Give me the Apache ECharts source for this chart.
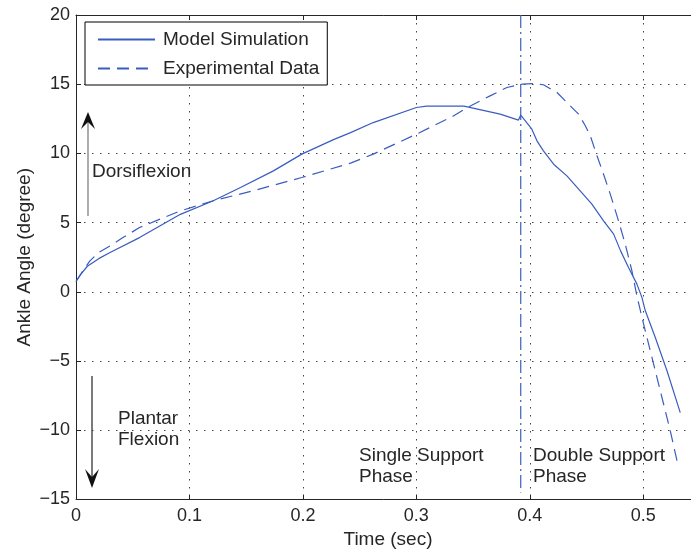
<!DOCTYPE html>
<html>
<head>
<meta charset="utf-8">
<script src="https://cdn.jsdelivr.net/npm/echarts@6/dist/echarts.min.js"></script>
<style>html,body{margin:0;padding:0;background:#fff}#c{width:691px;height:554px}</style>
</head>
<body>
<div id="c"></div>
<script>
// Model Simulation (solid)
const modelTime = [0, 0.004, 0.010, 0.020, 0.030, 0.056, 0.092, 0.121, 0.145, 0.174, 0.199, 0.227, 0.242, 0.262, 0.300, 0.309, 0.342, 0.3739, 0.390, 0.392, 0.4018, 0.4063, 0.412, 0.421, 0.4327, 0.4444, 0.4547, 0.465, 0.4739, 0.480, 0.487, 0.4944, 0.4988, 0.5018, 0.5106, 0.5209, 0.5326];
const modelAngle = [0.75, 1.25, 1.85, 2.4, 2.84, 3.92, 5.6, 6.58, 7.54, 8.74, 9.95, 11.0, 11.5, 12.23, 13.32, 13.42, 13.42, 12.84, 12.41, 12.77, 11.75, 10.91, 10.19, 9.22, 8.38, 7.30, 6.34, 5.13, 4.17, 2.96, 1.76, 0.56, -0.4, -1.37, -3.3, -5.7, -8.72];
// Experimental Data (dashed)
const expTime = [0, 0.006, 0.0123, 0.020, 0.030, 0.040, 0.056, 0.092, 0.121, 0.156, 0.199, 0.242, 0.262, 0.300, 0.333, 0.345, 0.365, 0.3798, 0.393, 0.4033, 0.412, 0.424, 0.4327, 0.443, 0.4489, 0.4533, 0.4592, 0.465, 0.4709, 0.4782, 0.4841, 0.490, 0.4944, 0.5003, 0.5077, 0.515, 0.5238, 0.5311];
const expAngle = [0.75, 1.5, 2.24, 2.85, 3.32, 3.85, 4.65, 5.85, 6.58, 7.3, 8.26, 9.3, 9.95, 11.39, 12.72, 13.32, 14.16, 14.76, 15.0, 15.05, 14.96, 14.4, 13.68, 12.84, 12.0, 11.27, 9.83, 8.5, 7.06, 5.13, 3.45, 1.52, -0.3, -2.33, -4.75, -7.15, -10.04, -12.7];
// Phase boundary (dash-dot vertical line)
const phaseTime = [0.392, 0.392];
const phaseAngle = [20, -14.5];
const seriesNames = ['Model Simulation', 'Experimental Data'];
const xTicks = [0, 0.1, 0.2, 0.3, 0.4, 0.5];

const zip = (a, b) => a.map((v, i) => [v, b[i]]);
const BLUE = '#3a5cbf';
const FONT = '"Liberation Sans", Arial, Helvetica, sans-serif';
const TXT = '#262626';

const chart = echarts.init(document.getElementById('c'));
chart.setOption({
  animation: false,
  backgroundColor: '#fff',
  textStyle: { fontFamily: FONT },
  grid: { left: 76, top: 15, right: -9, bottom: 54.5, containLabel: false, outerBoundsMode: 'none' },
  legend: {
    data: seriesNames,
    orient: 'vertical',
    left: 85, top: 22,
    padding: [8, 8, 7, 12],
    itemWidth: 57, itemHeight: 14, itemGap: 10,
    backgroundColor: '#fff',
    borderColor: '#000', borderWidth: 1, borderRadius: 0,
    itemStyle: { opacity: 0 },
    textStyle: { fontSize: 19, color: TXT, fontFamily: FONT, padding: [0, 0, 0, 3] }
  },
  xAxis: [{
    type: 'value', min: 0, max: 0.55, interval: 0.1,
    name: 'Time (sec)', nameLocation: 'middle', nameGap: 29,
    nameTextStyle: { fontSize: 19, color: TXT, fontFamily: FONT },
    axisLine: { onZero: false, lineStyle: { color: TXT, width: 1 } },
    axisTick: { inside: true, length: 5, lineStyle: { color: TXT } },
    axisLabel: {
      fontSize: 18, color: TXT, margin: 8, fontFamily: FONT,
      formatter: v => xTicks.some(t => Math.abs(t - v) < 1e-9) ? String(+v.toFixed(1)) : ''
    },
    splitLine: { show: true, lineStyle: { color: '#444', width: 1, type: [1.5, 6.5] } }
  }, {
    type: 'value', min: 0, max: 0.55, interval: 0.1, position: 'top',
    axisLine: { show: true, onZero: false, lineStyle: { color: TXT, width: 1 } },
    axisTick: { show: true, inside: true, length: 5, lineStyle: { color: TXT } },
    axisLabel: { show: false }, splitLine: { show: false }
  }],
  yAxis: {
    type: 'value', min: -15, max: 20, interval: 5,
    name: 'Ankle Angle (degree)', nameLocation: 'middle', nameGap: 42, nameMoveOverlap: false,
    nameTextStyle: { fontSize: 19, color: TXT, fontFamily: FONT },
    axisLine: { show: true, onZero: false, lineStyle: { color: TXT, width: 1 } },
    axisTick: { show: true, inside: true, length: 5, lineStyle: { color: TXT } },
    axisLabel: { fontSize: 18, color: TXT, margin: 6, fontFamily: FONT,
      formatter: v => String(v).replace('-', '\u2212') },
    splitLine: { show: true, lineStyle: { color: '#444', width: 1, type: [1.5, 6.5] } }
  },
  series: [{
    name: seriesNames[0], type: 'line', data: zip(modelTime, modelAngle),
    symbol: 'none', smooth: false,
    lineStyle: { color: BLUE, width: 1.2, type: 'solid' },
    itemStyle: { color: BLUE }
  }, {
    name: seriesNames[1], type: 'line', data: zip(expTime, expAngle),
    symbol: 'none', smooth: false,
    lineStyle: { color: BLUE, width: 1.2, type: [12, 7] },
    itemStyle: { color: BLUE }
  }, {
    name: 'phase', type: 'line', data: zip(phaseTime, phaseAngle),
    symbol: 'none', silent: true,
    lineStyle: { color: BLUE, width: 1.2, type: [13, 4, 2, 4] }
  }],
  graphic: [
    { type: 'line', shape: { x1: 88, y1: 216, x2: 88, y2: 121 }, style: { stroke: '#808080', lineWidth: 1.3 } },
    { type: 'polygon', shape: { points: [[88, 112], [81, 129], [88, 122], [95, 129]] }, style: { fill: '#111' } },
    { type: 'line', shape: { x1: 92, y1: 376, x2: 92, y2: 479 }, style: { stroke: '#333', lineWidth: 1.3 } },
    { type: 'polygon', shape: { points: [[92, 488], [85, 469], [92, 477], [99, 469]] }, style: { fill: '#111' } },
    { type: 'text', left: 92, top: 162, style: { text: 'Dorsiflexion', fontSize: 19, fill: TXT, fontFamily: FONT } },
    { type: 'text', left: 118, top: 408, style: { text: 'Plantar\nFlexion', fontSize: 19, lineHeight: 21, fill: TXT, fontFamily: FONT } },
    { type: 'text', left: 359, top: 445, style: { text: 'Single Support\nPhase', fontSize: 19, lineHeight: 21, fill: TXT, fontFamily: FONT } },
    { type: 'text', left: 533, top: 445, style: { text: 'Double Support\nPhase', fontSize: 19, lineHeight: 21, fill: TXT, fontFamily: FONT } }
  ]
});
</script>
</body>
</html>
